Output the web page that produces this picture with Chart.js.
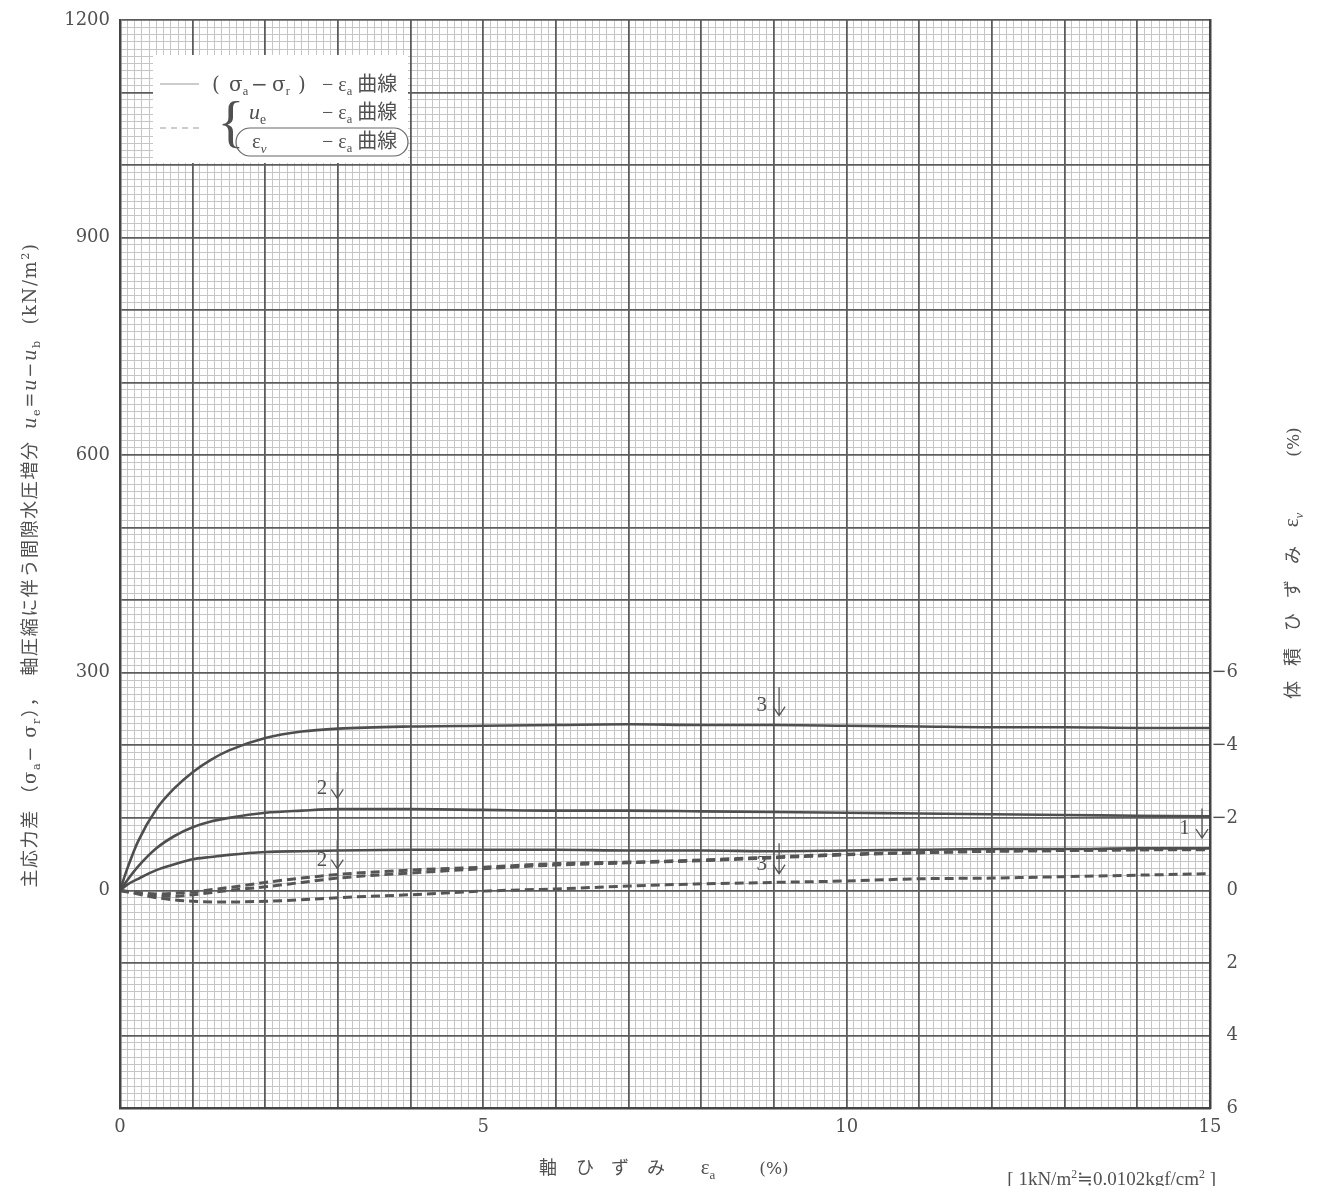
<!DOCTYPE html>
<html><head><meta charset="utf-8">
<script src="https://cdn.jsdelivr.net/npm/chart.js@4/dist/chart.umd.min.js"></script>
<style>html,body{margin:0;padding:0;background:#fff;overflow:hidden}canvas{display:block}</style>
</head><body>
<canvas id="c" width="1320" height="1186"></canvas>
<script>
// ---------- DATA ----------
const strainSolid = [0,0.1,0.25,0.5,0.75,1,1.25,1.5,2,2.5,3,4,5,6,7,8,9,10,11,12,13,14,15];
const devStress3 = [0,30,68,112,141,163,180,193,210,219,223,226,227,228,229,228,228,227,226,225,225,224,224];
const devStress2 = [0,14,33,58,75,87,95,100,107,110,112,112,111,110,110,109,108,107,106,105,104,103,102];
const devStress1 = [0,8,16,28,36,43,46,49,53,54,55,56,56,56,55,55,54,55,56,57,57,58,58];

const strainDashed = [0,0.25,0.5,0.75,1,1.5,2,2.5,3,4,5,6,7,8,9,10,11,12,13,14,15];
const volStrainA = [0,0.06,0.10,0.08,0.04,-0.08,-0.22,-0.34,-0.44,-0.56,-0.64,-0.74,-0.78,-0.84,-0.92,-1.00,-1.04,-1.08,-1.10,-1.12,-1.14];
const volStrainB = [0,0.08,0.16,0.16,0.12,0,-0.10,-0.22,-0.34,-0.48,-0.60,-0.70,-0.76,-0.82,-0.90,-0.98,-1.04,-1.08,-1.10,-1.12,-1.12];
const volStrainC = [0,0.10,0.20,0.26,0.30,0.32,0.30,0.26,0.20,0.12,0.02,-0.04,-0.12,-0.18,-0.22,-0.26,-0.32,-0.34,-0.38,-0.42,-0.46];

const xTickLabels = [0,5,10,15];
const yTickLabels = [0,300,600,900,1200];
const y1TickLabels = [-6,-4,-2,0,2,4,6];

// curve number labels (in left-axis data units)
const noteText   = ['3','2','2','3','1'];
const noteX      = [8.83, 2.78, 2.78, 8.83, 14.65];
const noteY      = [255, 141, 41, 36, 85];
const arrowX     = [9.07, 2.99, 2.99, 9.07, 14.89];
const arrowTop   = [280, 163, 69, 65, 113];
const arrowTip   = [241, 127, 30, 23, 72];

// ---------- HELPERS ----------
const SERIF = '"Liberation Serif", "DejaVu Serif", serif';
const NUMF = '"DejaVu Serif", "Liberation Serif", serif';
const CJK = '"Noto Sans CJK JP", "Noto Sans", sans-serif';
const TXT = '#505050';
function pts(xs, ys){ return xs.map((x,i)=>({x:x, y:ys[i]})); }
function buildTicks(min,max,step){ const a=[]; const n=Math.round((max-min)/step); for(let i=0;i<=n;i++) a.push({value:+(min+i*step).toFixed(6)}); return a; }
function isMult(v,m){ const r=v/m; return Math.abs(r-Math.round(r))<1e-6; }

function segFont(s,size){
  let sz = (s.sub||s.sup) ? size*0.62 : size;
  if (s.f==='j') return sz+'px '+CJK;
  if (s.f==='d') return (s.it?'italic ':'')+sz+'px '+NUMF;
  return (s.it?'italic ':'')+sz+'px '+SERIF;
}
function richWidth(ctx,segs,size){ let w=0; for(const s of segs){ ctx.font=segFont(s,size); w+=ctx.measureText(s.t).width; } return w; }
function drawRich(ctx,segs,x,y,size,align){
  const w=richWidth(ctx,segs,size);
  let cx = align==='center'? x-w/2 : (align==='right'? x-w : x);
  ctx.textAlign='left'; ctx.textBaseline='alphabetic';
  for(const s of segs){
    ctx.font=segFont(s,size);
    let dy = s.sub? size*0.22 : (s.sup? -size*0.38 : 0);
    ctx.fillText(s.t,cx,y+dy);
    cx+=ctx.measureText(s.t).width;
  }
}

const gridColor = ctx => { const v=ctx.tick&&ctx.tick.value; return isMult(v,ctx.scale.axis==='x'?1:100)?'#5c5c5c':'#c6c6c6'; };
const gridWidth = ctx => { const v=ctx.tick&&ctx.tick.value; return isMult(v,ctx.scale.axis==='x'?1:100)?1.8:1; };
const noPad = s => { s.paddingTop=0; s.paddingBottom=0; s.paddingLeft=0; s.paddingRight=0; };

const decor = {
  id:'decor',
  beforeDraw(chart){ chart.ctx.save(); chart.ctx.globalCompositeOperation='darken'; },
  afterDatasetsDraw(chart){
    const ctx=chart.ctx; const xs=chart.scales.x, ys=chart.scales.y, y1=chart.scales.y1;
    ctx.save();
    ctx.fillStyle=TXT; ctx.strokeStyle='#555'; ctx.lineWidth=1.3;
    for(let i=0;i<noteText.length;i++){
      ctx.font='21px '+SERIF; ctx.textAlign='center'; ctx.textBaseline='middle';
      ctx.fillText(noteText[i], xs.getPixelForValue(noteX[i]), ys.getPixelForValue(noteY[i]));
      const ax=xs.getPixelForValue(arrowX[i]), at=ys.getPixelForValue(arrowTop[i]), ab=ys.getPixelForValue(arrowTip[i]);
      ctx.beginPath(); ctx.moveTo(ax,at); ctx.lineTo(ax,ab);
      ctx.moveTo(ax-6,ab-9); ctx.lineTo(ax,ab); ctx.lineTo(ax+6,ab-9); ctx.stroke();
    }
    // right axis tick labels, right-aligned on the digits
    ctx.font='18px '+NUMF; ctx.textAlign='right'; ctx.textBaseline='middle';
    for(const v of y1TickLabels){
      ctx.fillText(v<0? '−'+Math.abs(v) : String(v), chart.chartArea.right+28, y1.getPixelForValue(v));
    }
    ctx.restore();
  },
  afterDraw(chart){
    const ctx=chart.ctx;
    ctx.restore();
    ctx.save();
    // legend box
    ctx.fillStyle='#fff'; ctx.fillRect(153,55,255,108);
    ctx.strokeStyle='#9a9a9a'; ctx.lineWidth=1.2;
    ctx.beginPath(); ctx.moveTo(160,84); ctx.lineTo(199,84); ctx.stroke();
    ctx.setLineDash([6,5]); ctx.beginPath(); ctx.moveTo(160,128); ctx.lineTo(199,128); ctx.stroke(); ctx.setLineDash([]);
    ctx.fillStyle=TXT;
    drawRich(ctx,[{t:'(',f:'d'}],212,91,20,'left');
    drawRich(ctx,[{t:'σ',f:'d'},{t:'a',sub:1}],229,91,20,'left');
    drawRich(ctx,[{t:'−',f:'d'}],251,91,20,'left');
    drawRich(ctx,[{t:'σ',f:'d'},{t:'r',sub:1}],272,91,20,'left');
    drawRich(ctx,[{t:')',f:'d'}],298,91,20,'left');
    const tail=[{t:'− ε'},{t:'a',sub:1},{t:' '},{t:'曲線',f:'j'}];
    drawRich(ctx,tail,322,91,20,'left');
    drawRich(ctx,[{t:'u',it:1},{t:'e',sub:1}],249,119,22,'left');
    drawRich(ctx,tail,322,119,20,'left');
    drawRich(ctx,[{t:'ε'},{t:'v',sub:1,it:1}],252,148,21,'left');
    drawRich(ctx,tail,322,148,20,'left');
    ctx.font='56px '+SERIF; ctx.textAlign='center'; ctx.textBaseline='middle';
    ctx.fillText('{',231,126);
    ctx.strokeStyle='#666'; ctx.lineWidth=1.2;
    ctx.beginPath(); ctx.roundRect(236,128,172,28,14); ctx.stroke();
    // left axis title
    ctx.fillStyle=TXT;
    ctx.save(); ctx.translate(30,565); ctx.rotate(-Math.PI/2);
    ctx.letterSpacing='1.6px';
    drawRich(ctx,[{t:'主応力差 （',f:'j'},{t:'σ',f:'d'},{t:'a',sub:1,f:'d'},{t:'− σ',f:'d'},{t:'r',sub:1,f:'d'},{t:'），  軸圧縮に伴う間隙水圧増分  ',f:'j'},
      {t:'u',it:1,f:'d'},{t:'e',sub:1,f:'d'},{t:'=',f:'d'},{t:'u',it:1,f:'d'},{t:'−',f:'d'},{t:'u',it:1,f:'d'},{t:'b',sub:1,f:'d'},{t:'  (kN/m',f:'d'},{t:'2',sup:1,f:'d'},{t:')',f:'d'}],0,6,18,'center');
    ctx.letterSpacing='0px';
    ctx.restore();
    // right axis title (pieces centred along the axis)
    const rt=[['体',690],['積',657],['ひ',622],['ず',589],['み',555]];
    ctx.save(); ctx.translate(1293,0);
    for(const [t,yc] of rt){ ctx.save(); ctx.translate(0,yc); ctx.rotate(-Math.PI/2); drawRich(ctx,[{t:t,f:'j'}],0,6,18,'center'); ctx.restore(); }
    ctx.save(); ctx.translate(0,520); ctx.rotate(-Math.PI/2); drawRich(ctx,[{t:'ε'},{t:'v',sub:1,it:1}],0,5,21,'center'); ctx.restore();
    ctx.save(); ctx.translate(0,442); ctx.rotate(-Math.PI/2); drawRich(ctx,[{t:'(%)',f:'d'}],0,6,17,'center'); ctx.restore();
    ctx.restore();
    // bottom axis title
    const bt=[['軸',548],['ひ',585],['ず',620],['み',656]];
    for(const [t,xc] of bt) drawRich(ctx,[{t:t,f:'j'}],xc,1174,18,'center');
    drawRich(ctx,[{t:'ε'},{t:'a',sub:1}],708,1174,21,'center');
    drawRich(ctx,[{t:'(%)',f:'d'}],774,1174,17,'center');
    // unit note
    drawRich(ctx,[{t:'[ 1kN/m'},{t:'2',sup:1},{t:'≒0.0102kgf/cm'},{t:'2',sup:1},{t:' ]'}],1216,1185,19,'right');
    ctx.restore();
  }
};

const solidStyle = {borderColor:'#4e4e4e', borderWidth:2.6, pointRadius:0, cubicInterpolationMode:'monotone', fill:false, yAxisID:'y'};
const dashStyle = {borderColor:'#555', borderWidth:3, borderDash:[9,5], pointRadius:0, cubicInterpolationMode:'monotone', fill:false, yAxisID:'y1'};

new Chart(document.getElementById('c'), {
  type:'line',
  data:{ datasets:[
    Object.assign({label:'(σa−σr) 3', data:pts(strainSolid,devStress3)}, solidStyle),
    Object.assign({label:'(σa−σr) 2', data:pts(strainSolid,devStress2)}, solidStyle),
    Object.assign({label:'(σa−σr) 1', data:pts(strainSolid,devStress1)}, solidStyle),
    Object.assign({label:'εv A', data:pts(strainDashed,volStrainA)}, dashStyle),
    Object.assign({label:'εv B', data:pts(strainDashed,volStrainB)}, dashStyle),
    Object.assign({label:'εv C', data:pts(strainDashed,volStrainC)}, dashStyle)
  ]},
  options:{
    responsive:false, animation:false, devicePixelRatio:1,
    layout:{padding:{top:20,right:0,left:0,bottom:0}},
    plugins:{legend:{display:false}, tooltip:{enabled:false}},
    scales:{
      x:{type:'linear', min:0, max:15,
        afterBuildTicks:s=>{ s.ticks=buildTicks(0,15,0.1); },
        afterFit:s=>{ s.height=78; noPad(s); },
        ticks:{autoSkip:false, maxRotation:0, padding:9, color:TXT, font:{family:NUMF,size:18},
          callback:v=> xTickLabels.some(t=>Math.abs(t-v)<1e-6)? String(Math.round(v)) : ''},
        grid:{color:gridColor, lineWidth:gridWidth, drawTicks:false},
        border:{display:true, color:'#444', width:2.5}},
      y:{type:'linear', position:'left', min:-300, max:1200,
        afterBuildTicks:s=>{ s.ticks=buildTicks(-300,1200,10); },
        afterFit:s=>{ s.width=120; noPad(s); },
        ticks:{autoSkip:false, padding:10, color:TXT, font:{family:NUMF,size:18},
          callback:v=> yTickLabels.some(t=>Math.abs(t-v)<1e-6)? String(Math.round(v)) : ''},
        grid:{color:gridColor, lineWidth:gridWidth, drawTicks:false},
        border:{display:true, color:'#444', width:2.5}},
      y1:{type:'linear', position:'right', min:-24, max:6, reverse:true,
        afterBuildTicks:s=>{ s.ticks=y1TickLabels.map(v=>({value:v})); },
        afterFit:s=>{ s.width=110; noPad(s); },
        ticks:{display:false},
        grid:{drawOnChartArea:false, drawTicks:false},
        border:{display:true, color:'#444', width:2.5}}
    }
  },
  plugins:[decor]
});
</script>
</body></html>
